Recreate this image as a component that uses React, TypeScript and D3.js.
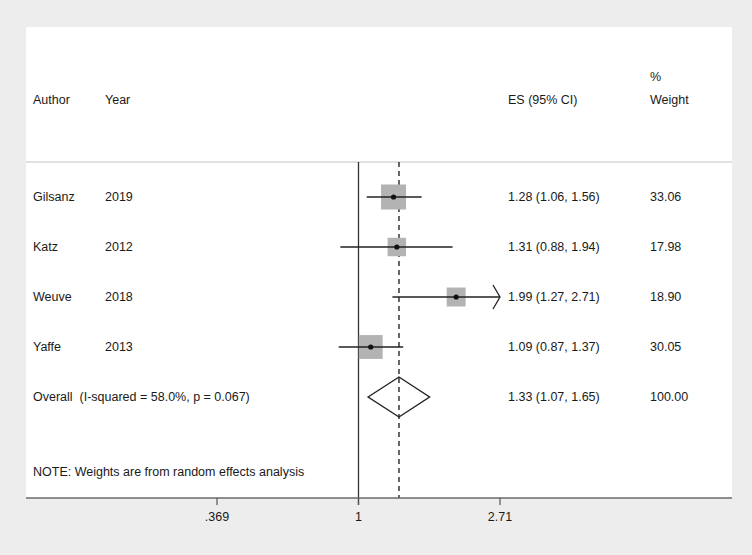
import React from 'react';
import * as d3 from 'd3';

// study rows
const authors = ['Gilsanz', 'Katz', 'Weuve', 'Yaffe'];
const years = ['2019', '2012', '2018', '2013'];
const es = [1.28, 1.31, 1.99, 1.09];
const lower = [1.06, 0.88, 1.27, 0.87];
const upper = [1.56, 1.94, 2.71, 1.37];
const weights = [33.06, 17.98, 18.9, 30.05];

// pooled estimate
const overallLabel = 'Overall  (I-squared = 58.0%, p = 0.067)';
const overall = { es: 1.33, lo: 1.07, hi: 1.65, weight: '100.00' };

const tickValues = [0.369, 1, 2.71];
const tickLabels = ['.369', '1', '2.71'];

const W = 752;
const H = 555;
const FONT = '"Liberation Sans", Arial, sans-serif';

const App = () => {
  const x = d3.scaleLog().domain([0.369, 2.71]).range([217, 500]);
  const rowKeys = [...authors, 'Overall'];
  const y = d3.scalePoint<string>().domain(rowKeys).range([197, 397]);

  const panel = { left: 26, right: 732, top: 27, header: 162, bottom: 498 };
  const side = (w: number) => 4.35 * Math.sqrt(w);
  const fmt = (v: number) => v.toFixed(2);
  const xMax = x.domain()[1];

  const oy = y('Overall')!;
  const diamond = d3.line()([
    [x(overall.lo), oy],
    [x(overall.es), oy - 20],
    [x(overall.hi), oy],
    [x(overall.es), oy + 20],
  ]) + 'Z';

  const txt = { fontFamily: FONT, fontSize: 12.5, fill: '#1a1a1a', style: { whiteSpace: 'pre' as const } };

  return (
    <svg width={W} height={H} style={{ position: 'absolute', left: 0, top: 0 }}>
      <rect width={W} height={H} fill="#ededed" />
      <rect
        x={panel.left}
        y={panel.top}
        width={panel.right - panel.left}
        height={panel.bottom - panel.top}
        fill="#ffffff"
      />

      {/* header */}
      <text x={33} y={100} dominantBaseline="central" {...txt}>Author</text>
      <text x={105} y={100} dominantBaseline="central" {...txt}>Year</text>
      <text x={508} y={100} dominantBaseline="central" {...txt}>ES (95% CI)</text>
      <text x={650} y={77} dominantBaseline="central" {...txt}>%</text>
      <text x={650} y={100} dominantBaseline="central" {...txt}>Weight</text>
      <line x1={panel.left} x2={panel.right} y1={panel.header} y2={panel.header} stroke="#c4c4c4" strokeWidth={1.2} />

      {/* reference lines */}
      <line x1={x(1)} x2={x(1)} y1={panel.header} y2={panel.bottom + 7} stroke="#333" strokeWidth={1.3} />
      <line
        x1={x(overall.es)}
        x2={x(overall.es)}
        y1={panel.header}
        y2={panel.bottom}
        stroke="#333"
        strokeWidth={1.5}
        strokeDasharray="5,4"
      />

      {/* studies */}
      {authors.map((a, i) => {
        const cy = y(a)!;
        const s = side(weights[i]);
        const hiX = x(Math.min(upper[i], xMax));
        return (
          <g key={a}>
            <rect x={x(es[i]) - s / 2} y={cy - s / 2} width={s} height={s} fill="#b3b3b3" />
            <line x1={x(lower[i])} x2={hiX} y1={cy} y2={cy} stroke="#222" strokeWidth={1.4} />
            {upper[i] >= xMax && (
              <path
                d={`M${hiX - 7},${cy - 12}L${hiX},${cy}L${hiX - 7},${cy + 12}`}
                fill="none"
                stroke="#222"
                strokeWidth={1.3}
              />
            )}
            <circle cx={x(es[i])} cy={cy} r={2.6} fill="#111" />
            <text x={33} y={cy} dominantBaseline="central" {...txt}>{a}</text>
            <text x={105} y={cy} dominantBaseline="central" {...txt}>{years[i]}</text>
            <text x={508} y={cy} dominantBaseline="central" {...txt}>
              {`${fmt(es[i])} (${fmt(lower[i])}, ${fmt(upper[i])})`}
            </text>
            <text x={650} y={cy} dominantBaseline="central" {...txt}>{fmt(weights[i])}</text>
          </g>
        );
      })}

      {/* overall */}
      <path d={diamond} fill="none" stroke="#222" strokeWidth={1.4} />
      <text x={33} y={oy} dominantBaseline="central" {...txt}>{overallLabel}</text>
      <text x={508} y={oy} dominantBaseline="central" {...txt}>
        {`${fmt(overall.es)} (${fmt(overall.lo)}, ${fmt(overall.hi)})`}
      </text>
      <text x={650} y={oy} dominantBaseline="central" {...txt}>{overall.weight}</text>

      <text x={33} y={472} dominantBaseline="central" {...txt}>NOTE: Weights are from random effects analysis</text>

      {/* axis */}
      <line x1={panel.left} x2={panel.right} y1={panel.bottom} y2={panel.bottom} stroke="#6a6a6a" strokeWidth={1.6} />
      {tickValues.map((t, i) => (
        <g key={t}>
          <line x1={x(t)} x2={x(t)} y1={panel.bottom} y2={panel.bottom + 7} stroke="#555" strokeWidth={1.2} />
          <text x={x(t)} y={517} textAnchor="middle" dominantBaseline="central" {...txt}>{tickLabels[i]}</text>
        </g>
      ))}
    </svg>
  );
};

export default App;
